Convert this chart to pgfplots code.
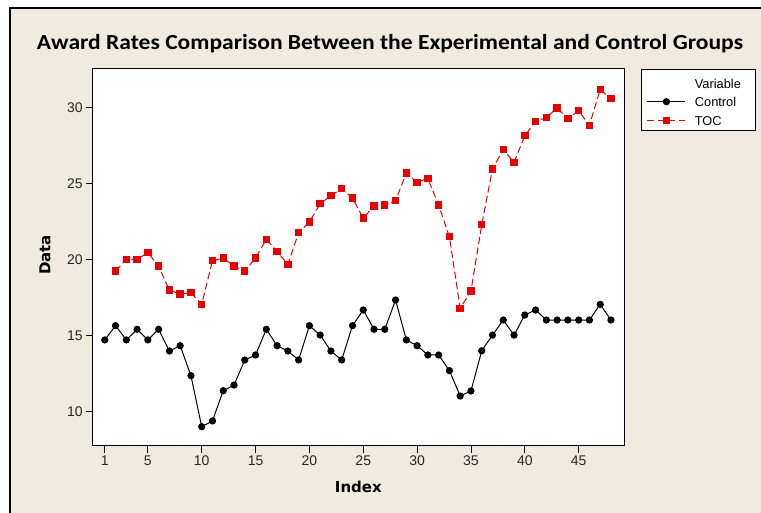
\documentclass[border=0pt]{standalone}
\usepackage{fontspec}
\setmainfont{Liberation Sans}
\newfontfamily\titlefont{Carlito}
\newfontfamily\labelfont{DejaVu Sans}
\usepackage{pgfplots}
\pgfplotsset{compat=1.18}
\definecolor{bgbeige}{RGB}{239,235,225}
\definecolor{tocred}{RGB}{232,0,0}
\pgfplotstableread{
x y
1 14.72
2 15.66
3 14.72
4 15.42
5 14.72
6 15.42
7 13.99
8 14.34
9 12.37
10 9.01
11 9.39
12 11.38
13 11.75
14 13.40
15 13.73
16 15.42
17 14.34
18 13.99
19 13.40
20 15.66
21 15.04
22 13.99
23 13.40
24 15.66
25 16.69
26 15.42
27 15.42
28 17.35
29 14.72
30 14.34
31 13.73
32 13.73
33 12.70
34 11.03
35 11.36
36 14.01
37 15.04
38 16.03
39 15.04
40 16.36
41 16.69
42 16.03
43 16.03
44 16.03
45 16.03
46 16.03
47 17.06
48 16.03
}\controldata
\pgfplotstableread{
x y
2 19.25
3 20.02
4 20.02
5 20.46
6 19.58
7 18.00
8 17.74
9 17.83
10 17.06
11 19.93
12 20.11
13 19.58
14 19.25
15 20.11
16 21.34
17 20.55
18 19.69
19 21.78
20 22.48
21 23.68
22 24.21
23 24.67
24 24.06
25 22.74
26 23.53
27 23.60
28 23.88
29 25.70
30 25.09
31 25.35
32 23.60
33 21.51
34 16.80
35 17.94
36 22.30
37 25.96
38 27.26
39 26.40
40 28.16
41 29.10
42 29.36
43 29.98
44 29.28
45 29.80
46 28.84
47 31.21
48 30.59
}\tocdata
\begin{document}
\begin{tikzpicture}
\useasboundingbox (0bp,0bp) rectangle (761bp,513bp);
\fill[white] (0bp,0bp) rectangle (761bp,513bp);
\fill[bgbeige] (10bp,0bp) rectangle (761bp,505bp);
\draw[black,line width=1.2bp] (10bp,0bp) -- (10bp,505bp) -- (761bp,505bp);
\node[font=\titlefont\bfseries\fontsize{21.5bp}{24bp}\selectfont, anchor=base, inner sep=0pt, xscale=1.095] at (390bp,463bp) {Award Rates Comparison Between the Experimental and Control Groups};
\draw[black, line width=0.8bp, fill=white] (641.7bp,444bp) rectangle (755.7bp,382.3bp);
\begin{axis}[
  at={(92.7bp,67bp)}, anchor=south west, scale only axis,
  width=531.3bp, height=377bp,
  xmin=-0.12, xmax=49.21, ymin=7.74, ymax=32.55,
  axis background/.style={fill=white},
  axis line style={black, line width=1bp},
  xtick={1,5,10,15,20,25,30,35,40,45},
  ytick={10,15,20,25,30},
  xtick pos=left, ytick pos=left,
  tick align=outside,
  major tick length=6.5bp,
  tick style={black, line width=0.9bp},
  tick label style={font=\fontsize{14bp}{16bp}\selectfont, text=black!85},
  /pgf/number format/assume math mode=true,
  xlabel={Index}, ylabel={Data},
  label style={font=\labelfont\bfseries\fontsize{15bp}{18bp}\selectfont},
  xlabel style={at={(axis description cs:0.5,-0.1088)}, anchor=center},
  ylabel style={at={(axis description cs:-0.0898,0.5066)}, anchor=center},
  legend image code/.code={\draw[mark repeat=2,mark phase=2,#1] plot coordinates {(0bp,0.5bp)(19bp,0.5bp)(38bp,0.5bp)};},
  legend style={at={(1.04272,0.97467)}, anchor=north west, draw=none, fill=none, inner sep=0pt,
    column sep=9bp, row sep=9.2bp, font=\fontsize{12.8bp}{14bp}\selectfont,
    nodes={inner sep=0pt, text height=9.5bp, text depth=0pt}},
  legend cell align=left,
]
\addlegendimage{empty legend}
\addplot[black, line width=1bp, mark=*, mark size=3.1bp, mark options={solid, fill=black}] table[x=x,y=y] {\controldata};
\addplot[tocred, line width=1bp, dash pattern=on 7bp off 3.5bp, mark=square*, mark size=3.2bp, mark options={solid, fill=tocred}] table[x=x,y=y] {\tocdata};
\legend{Variable, Control, TOC}
\end{axis}
\end{tikzpicture}
\end{document}
